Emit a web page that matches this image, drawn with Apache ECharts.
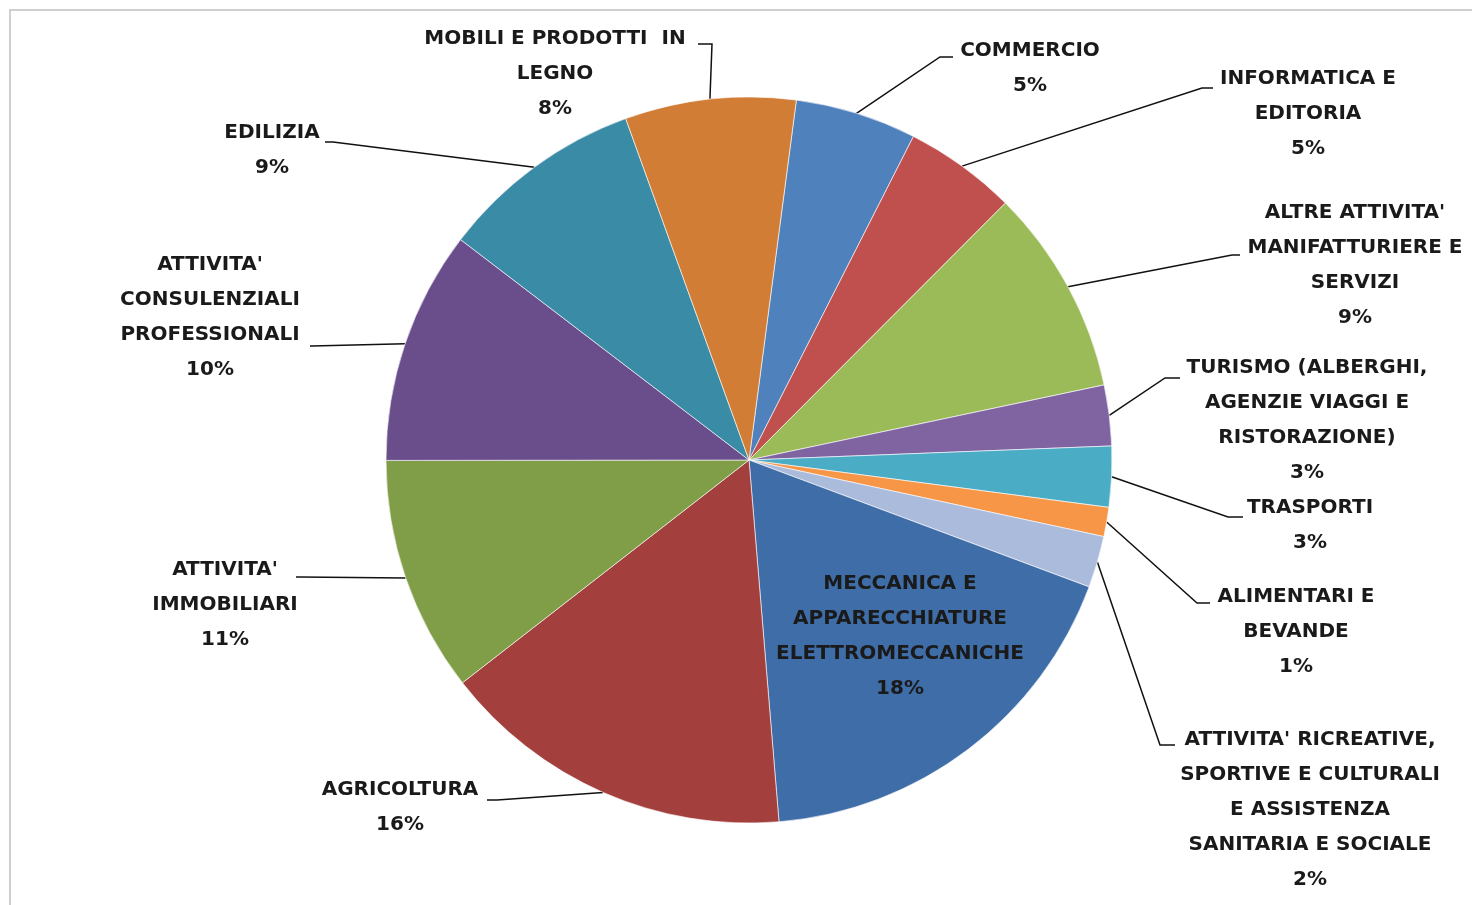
<!DOCTYPE html>
<html>
<head>
<meta charset="utf-8">
<script src="https://cdn.jsdelivr.net/npm/echarts@6/dist/echarts.min.js"></script>
<style>
html,body{margin:0;padding:0;background:#fff;}
#chart{width:1472px;height:905px;}
</style>
</head>
<body>
<div id="chart"></div>
<script>
// Categories (clockwise from top), with the line breaks used in the reference labels
const categories = [
  "COMMERCIO",
  "INFORMATICA E\nEDITORIA",
  "ALTRE ATTIVITA'\nMANIFATTURIERE E\nSERVIZI",
  "TURISMO (ALBERGHI,\nAGENZIE VIAGGI E\nRISTORAZIONE)",
  "TRASPORTI",
  "ALIMENTARI E\nBEVANDE",
  "ATTIVITA' RICREATIVE,\nSPORTIVE E CULTURALI\nE ASSISTENZA\nSANITARIA E SOCIALE",
  "MECCANICA E\nAPPARECCHIATURE\nELETTROMECCANICHE",
  "AGRICOLTURA",
  "ATTIVITA'\nIMMOBILIARI",
  "ATTIVITA'\nCONSULENZIALI\nPROFESSIONALI",
  "EDILIZIA",
  "MOBILI E PRODOTTI  IN\nLEGNO"
];
// Shares in percent (consistent with the printed rounded labels)
const shares = [5.4, 5.0, 9.2, 2.7, 2.7, 1.3, 2.3, 18.0, 15.8, 10.5, 10.4, 9.1, 7.6];

const colors = ["#4F81BD","#C0504D","#9BBB59","#8064A2","#4BACC6","#F79646","#AABBDB",
                "#3F6DA8","#A33F3D","#7F9E47","#6A4D8B","#3A8BA5","#D27D36"];

// label layout only: block centres, and leader elbow / end points
const labelCenters = [
  [1030, 68], [1308, 114], [1355, 265], [1307, 420], [1310, 525], [1296, 632],
  [1310, 810], [900, 636], [400, 807], [225, 605], [210, 317], [272, 150], [555, 74]
];
const leaderPaths = [
  [[940, 57], [953, 57]],
  [[1202, 88], [1213, 88]],
  [[1232, 255], [1240, 255]],
  [[1165, 378], [1180, 378]],
  [[1228, 517], [1243, 517]],
  [[1197, 603], [1210, 603]],
  [[1160, 745], [1175, 745]],
  null,
  [[497, 800], [487, 800]],
  [[300, 577], [296, 577]],
  [[312, 346], [310, 346]],
  [[333, 142], [325, 142]],
  [[712, 44], [698, 44]]
];

const chart = echarts.init(document.getElementById('chart'), null, {renderer:'canvas'});

const data = categories.map((c, i) => {
  const d = {name: c, value: shares[i], itemStyle: {color: colors[i]}};
  if (i === 7) {
    d.label = {position: 'inside'};
    d.labelLine = {show: false};
  }
  return d;
});

function edgePoint(i) {
  const lay = chart.getModel().getSeriesByIndex(0).getData().getItemLayout(i);
  const mid = (lay.startAngle + lay.endAngle) / 2;
  return [lay.cx + lay.r * Math.cos(mid), lay.cy + lay.r * Math.sin(mid)];
}

chart.setOption({
  animation: false,
  backgroundColor: '#ffffff',
  graphic: [{
    type: 'polyline',
    shape: {points: [[10, 905], [10, 10], [1472, 10]]},
    style: {stroke: '#cfcfcf', lineWidth: 2, fill: null},
    silent: true
  }],
  series: [{
    type: 'pie',
    center: [749, 460],
    radius: 363,
    startAngle: 82.5,
    clockwise: true,
    data: data,
    itemStyle: {borderColor: 'rgba(255,255,255,0.6)', borderWidth: 1},
    label: {
      show: true,
      position: 'outside',
      color: '#1a1a1a',
      fontFamily: 'DejaVu Sans',
      fontWeight: 'bold',
      fontSize: 20,
      lineHeight: 35,
      align: 'center',
      formatter: p => p.name + '\n' + Math.round(p.value) + '%'
    },
    labelLine: {show: true, lineStyle: {color: '#111', width: 1.5}, length: 20, length2: 10},
    labelLayout: function (params) {
      const i = params.dataIndex;
      const c = labelCenters[i];
      const out = {x: c[0], y: c[1], align: 'center', verticalAlign: 'middle'};
      const path = leaderPaths[i];
      if (path) {
        let start = params.labelLinePoints && params.labelLinePoints[0];
        if (!start) start = edgePoint(i);
        out.labelLinePoints = [start, path[0], path[1]];
      }
      return out;
    }
  }]
});
</script>
</body>
</html>
